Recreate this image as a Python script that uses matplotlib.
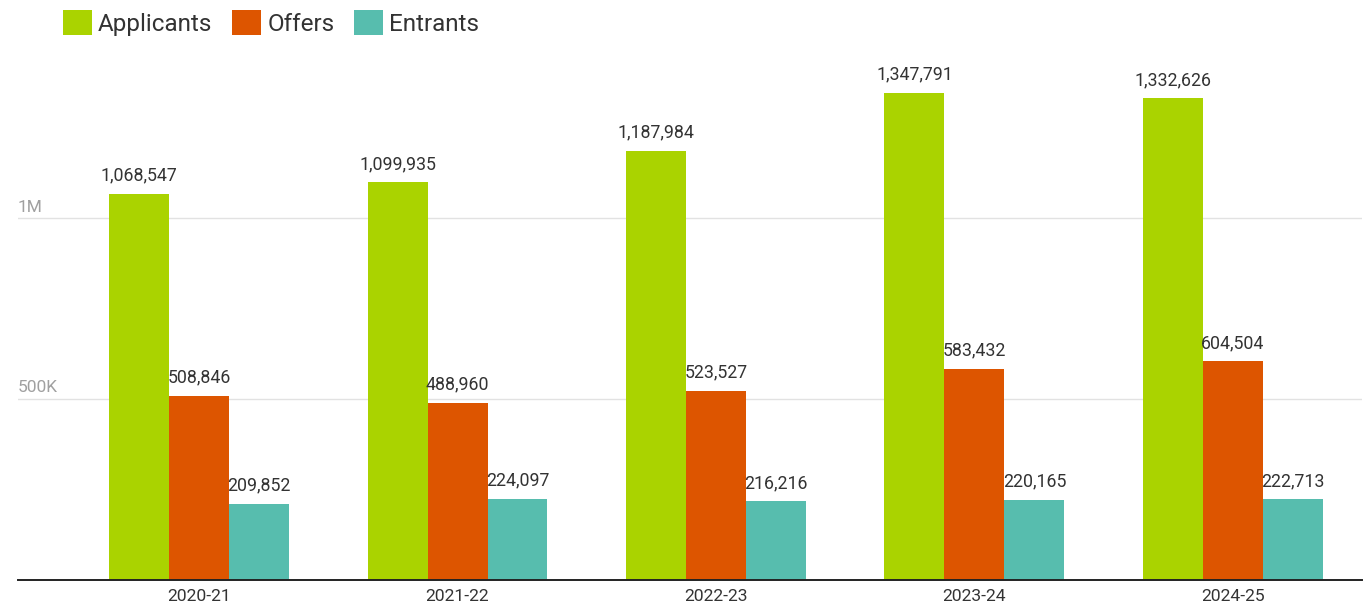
import matplotlib
matplotlib.use("Agg")
import matplotlib.pyplot as plt
from matplotlib.transforms import blended_transform_factory
import numpy as np

plt.rcParams["font.family"] = ["Roboto", "DejaVu Sans"]

years = ["2020-21", "2021-22", "2022-23", "2023-24", "2024-25"]
applicants = [1068547, 1099935, 1187984, 1347791, 1332626]
offers = [508846, 488960, 523527, 583432, 604504]
entrants = [209852, 224097, 216216, 220165, 222713]

series = [
    ("Applicants", applicants, "#aad300"),
    ("Offers", offers, "#dd5500"),
    ("Entrants", entrants, "#57bdae"),
]
y_ticks = [500000, 1000000]
y_tick_labels = ["500K", "1M"]

fig = plt.figure(figsize=(13.71, 6.10), dpi=100)
ax = fig.add_axes([18 / 1371, 1 - 579.5 / 610, (1362 - 18) / 1371, (579.5 - 38) / 610])

x = np.arange(len(years))
width = 0.232
for i, (name, vals, color) in enumerate(series):
    pos = x + (i - 1) * width
    bars = ax.bar(pos, vals, width=width, color=color, label=name, zorder=3)
    for b, v in zip(bars, vals):
        ax.annotate(f"{v:,}", xy=(b.get_x() + b.get_width() / 2, v),
                    xytext=(0, 9.5), textcoords="offset points",
                    ha="center", va="baseline", fontsize=12.8, color="#333333")

ax.set_ylim(0, 1500000)
ax.set_xlim(-0.701, 4.5)
ax.set_xticks(x)
ax.set_xticklabels(years, fontsize=12.6, color="#333333")
ax.tick_params(axis="x", length=0, pad=7)
ax.set_yticks(y_ticks)
ax.set_yticklabels([])
ax.tick_params(axis="y", length=0)
ax.grid(axis="y", color="#e2e2e2", linewidth=1.0, zorder=0)
for s in ["left", "right", "top"]:
    ax.spines[s].set_visible(False)
ax.spines["bottom"].set_color("#222222")
ax.spines["bottom"].set_linewidth(1.4)
ax.spines["bottom"].set_zorder(4)

trans = blended_transform_factory(ax.transAxes, ax.transData)
for val, lab in zip(y_ticks, y_tick_labels):
    ax.annotate(lab, xy=(0, val), xycoords=trans, xytext=(0, 5),
                textcoords="offset points", ha="left", va="baseline",
                fontsize=12.5, color="#a0a0a0")

fig.legend(loc="center left", bbox_to_anchor=(41 / 1371, 1 - 23 / 610),
           ncol=3, frameon=False, fontsize=17.5, handlelength=1.2,
           handleheight=1.2, handletextpad=0.25, columnspacing=0.8,
           labelcolor="#333333")

fig.savefig("out.png", dpi=100, facecolor="white")
